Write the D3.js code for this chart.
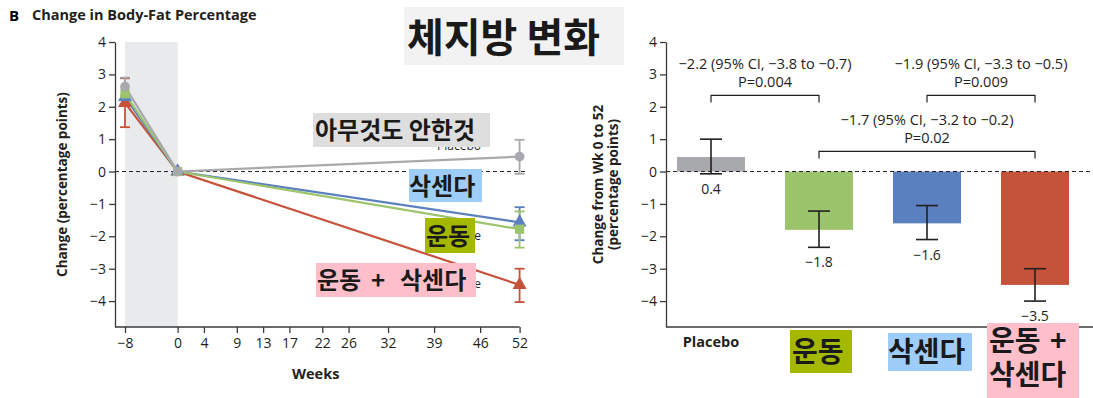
<!DOCTYPE html>
<html>
<head>
<meta charset="utf-8">
<script src="https://cdn.jsdelivr.net/npm/d3@7"></script>
<style>
  body { margin: 0; background: #fff; }
  svg { display: block; font-family: "Open Sans", sans-serif; }
  .axis text { font-size: 14px; fill: #231f20; font-family: "Open Sans", sans-serif; }
  .axis path, .axis line { stroke: #3a3a3a; stroke-width: 1.3; }
  .ko { font-family: "Noto Sans CJK KR", sans-serif; font-weight: 700; fill: #1a1a1a; }
</style>
</head>
<body>
<svg id="chart" width="1093" height="398"></svg>
<script>
// ---- left panel: change over time ----
var weeks = [-8, 0, 52];
var weekTicks = [-8, 0, 4, 9, 13, 17, 22, 26, 32, 39, 46, 52];
var yTicks = [4, 3, 2, 1, 0, -1, -2, -3, -4];

var placeboLine = [2.62, 0, 0.46];
var liraglutideLine = [2.3, 0, -1.57];
var exerciseLine = [2.4, 0, -1.78];
var comboLine = [2.12, 0, -3.5];

// error bars [week, low, high]
var placeboErr = [[-8, 2.35, 2.9], [52, -0.07, 0.98]];
var liraglutideErr = [[52, -2.12, -1.1]];
var exerciseErr = [[52, -2.35, -1.23]];
var comboErr = [[-8, 1.37, 2.88], [52, -4.03, -3.0]];

// ---- right panel: change from week 0 to 52 ----
var barGroups = ["Placebo", "Exercise", "Liraglutide", "Combination"];
var barValues = [0.45, -1.8, -1.6, -3.5];
var barLow = [-0.07, -2.34, -2.1, -4.0];
var barHigh = [1.0, -1.22, -1.05, -3.0];
var barLabels = ["0.4", "\u22121.8", "\u22121.6", "\u22123.5"];

var comparisons = [
  {a: "Placebo", b: "Exercise", ci: "\u22122.2 (95% CI, \u22123.8 to \u22120.7)", p: "P=0.004"},
  {a: "Liraglutide", b: "Combination", ci: "\u22121.9 (95% CI, \u22123.3 to \u22120.5)", p: "P=0.009"},
  {a: "Exercise", b: "Combination", ci: "\u22121.7 (95% CI, \u22123.2 to \u22120.2)", p: "P=0.02"}
];

var colors = {
  Placebo: "#a7a9ac",
  Liraglutide: "#5b80bf",
  Exercise: "#9cc46c",
  Combination: "#c5533a"
};

var svg = d3.select("svg#chart");

// headings
svg.append("text").attr("x", 9).attr("y", 21)
  .style("font", "bold 15px 'Open Sans'").text("B");
svg.append("text").attr("x", 32).attr("y", 20)
  .style("font", "bold 14.5px 'Open Sans'").attr("fill", "#231f20")
  .text("Change in Body-Fat Percentage");

// ===== left panel =====
var x = d3.scaleLinear().domain([-8, 52]).range([125, 519.6]);
var y = d3.scaleLinear().domain([-4.8, 4]).range([327, 42]);
var left = svg.append("g");
var axisX0 = 115;

left.append("rect")
  .attr("x", x(-8)).attr("y", y(4))
  .attr("width", x(0) - x(-8)).attr("height", y(-4.8) - y(4))
  .attr("fill", "#e9eaec");

left.append("line")
  .attr("x1", axisX0).attr("x2", 526)
  .attr("y1", y(0)).attr("y2", y(0))
  .attr("stroke", "#231f20").attr("stroke-dasharray", "4,3");

var series = [
  {key: "Combination", vals: comboLine, err: comboErr, shape: d3.symbolTriangle},
  {key: "Liraglutide", vals: liraglutideLine, err: liraglutideErr, shape: d3.symbolTriangle},
  {key: "Exercise", vals: exerciseLine, err: exerciseErr, shape: d3.symbolSquare},
  {key: "Placebo", vals: placeboLine, err: placeboErr, shape: d3.symbolCircle}
];

var line = d3.line()
  .x(function(d, i) { return x(weeks[i]); })
  .y(function(d) { return y(d); });

series.forEach(function(s) {
  left.append("path")
    .attr("d", line(s.vals))
    .attr("fill", "none")
    .attr("stroke", colors[s.key])
    .attr("stroke-width", 2.2);
});

series.forEach(function(s) {
  var eg = left.append("g").attr("stroke", colors[s.key]).attr("stroke-width", 1.8);
  s.err.forEach(function(e) {
    var cx = x(e[0]);
    eg.append("line").attr("x1", cx).attr("x2", cx).attr("y1", y(e[1])).attr("y2", y(e[2]));
    eg.append("line").attr("x1", cx - 5).attr("x2", cx + 5).attr("y1", y(e[1])).attr("y2", y(e[1]));
    eg.append("line").attr("x1", cx - 5).attr("x2", cx + 5).attr("y1", y(e[2])).attr("y2", y(e[2]));
  });
});

series.forEach(function(s) {
  left.selectAll(null)
    .data(s.vals)
    .enter().append("path")
    .attr("transform", function(d, i) { return "translate(" + x(weeks[i]) + "," + y(d) + ")"; })
    .attr("d", d3.symbol().type(s.shape).size(s.shape === d3.symbolCircle ? 75 : 85))
    .attr("fill", colors[s.key]);
});

left.append("g")
  .attr("class", "axis")
  .attr("transform", "translate(" + axisX0 + ",0)")
  .call(d3.axisLeft(y).tickValues(yTicks).tickSize(6).tickSizeOuter(0).tickPadding(3));

var xAxis = left.append("g")
  .attr("class", "axis")
  .attr("transform", "translate(0," + y(-4.8) + ")")
  .call(d3.axisBottom(x).tickValues(weekTicks).tickSize(6).tickSizeOuter(0).tickPadding(5));
xAxis.select(".domain").remove();
xAxis.append("line").attr("x1", axisX0).attr("x2", x(52)).attr("stroke", "#3a3a3a").attr("stroke-width", 1.3);

left.append("text")
  .attr("x", x(21)).attr("y", 379)
  .attr("text-anchor", "middle")
  .style("font", "bold 14.5px 'Open Sans'").attr("fill", "#231f20")
  .text("Weeks");

left.append("text")
  .attr("transform", "translate(67," + (y(-4.8) + y(4)) / 2 + ") rotate(-90)")
  .attr("text-anchor", "middle")
  .style("font", "bold 13.5px 'Open Sans'").attr("fill", "#231f20")
  .text("Change (percentage points)");

// original series labels, mostly covered by the Korean boxes
var seriesLabels = [["Placebo", 150], ["Exercise", 240], ["Exercise + Liraglutide", 288]];
seriesLabels.forEach(function(l) {
  left.append("text").attr("x", 481).attr("y", l[1]).attr("text-anchor", "end")
    .style("font", "12px 'Open Sans'").attr("fill", "#231f20").text(l[0]);
});

// ===== right panel =====
var xb = d3.scaleBand().domain(barGroups).range([657, 1089]).paddingInner(0.37).paddingOuter(0.185);
var yb = d3.scaleLinear().domain([-4.8, 4]).range([327, 42]);
var right = svg.append("g");
var axisX1 = 666;
var cxb = function(g) { return xb(g) + xb.bandwidth() / 2; };

right.selectAll(".bar")
  .data(barGroups)
  .enter().append("rect")
  .attr("class", "bar")
  .attr("x", function(d) { return xb(d); })
  .attr("width", xb.bandwidth())
  .attr("y", function(d, i) { return yb(Math.max(0, barValues[i])); })
  .attr("height", function(d, i) { return Math.abs(yb(barValues[i]) - yb(0)); })
  .attr("fill", function(d) { return colors[d]; });

right.append("line")
  .attr("x1", axisX1).attr("x2", 1093)
  .attr("y1", yb(0)).attr("y2", yb(0))
  .attr("stroke", "#231f20").attr("stroke-dasharray", "4,3");

barGroups.forEach(function(g, i) {
  var cx = cxb(g);
  var eg = right.append("g").attr("stroke", "#231f20").attr("stroke-width", 1.6);
  eg.append("line").attr("x1", cx).attr("x2", cx).attr("y1", yb(barLow[i])).attr("y2", yb(barHigh[i]));
  eg.append("line").attr("x1", cx - 11).attr("x2", cx + 11).attr("y1", yb(barLow[i])).attr("y2", yb(barLow[i]));
  eg.append("line").attr("x1", cx - 11).attr("x2", cx + 11).attr("y1", yb(barHigh[i])).attr("y2", yb(barHigh[i]));
  right.append("text")
    .attr("x", cx).attr("y", yb(barLow[i]) + 20)
    .attr("text-anchor", "middle")
    .style("font", "14px 'Open Sans'").attr("fill", "#231f20")
    .text(barLabels[i]);
});

right.append("g")
  .attr("class", "axis")
  .attr("transform", "translate(" + axisX1 + ",0)")
  .call(d3.axisLeft(yb).tickValues(yTicks).tickSize(6).tickSizeOuter(0).tickPadding(3));

right.append("line")
  .attr("x1", axisX1).attr("x2", 1093)
  .attr("y1", yb(-4.8)).attr("y2", yb(-4.8))
  .attr("stroke", "#3a3a3a").attr("stroke-width", 1.3);

right.append("text")
  .attr("x", cxb("Placebo")).attr("y", 347)
  .attr("text-anchor", "middle")
  .style("font", "bold 14.5px 'Open Sans'").attr("fill", "#231f20")
  .text("Placebo");

// comparison brackets
var bracketLevels = [2.35, 2.35, 0.62];
comparisons.forEach(function(c, i) {
  var x1 = cxb(c.a), x2 = cxb(c.b), by = yb(bracketLevels[i]);
  right.append("path")
    .attr("d", "M" + x1 + "," + (by + 7) + "V" + by + "H" + x2 + "V" + (by + 7))
    .attr("fill", "none").attr("stroke", "#231f20").attr("stroke-width", 1.2);
  var t = right.append("text")
    .attr("text-anchor", "middle")
    .style("font", "14.5px 'Open Sans'").attr("fill", "#231f20");
  t.append("tspan").attr("x", (x1 + x2) / 2).attr("y", by - 26).text(c.ci);
  t.append("tspan").attr("x", (x1 + x2) / 2).attr("y", by - 8).text(c.p);
});

var yt = right.append("text")
  .attr("transform", "translate(603," + (yb(-4.8) + yb(4)) / 2 + ") rotate(-90)")
  .attr("text-anchor", "middle")
  .style("font", "bold 13.5px 'Open Sans'").attr("fill", "#231f20");
yt.append("tspan").attr("x", 0).attr("y", 0).text("Change from Wk 0 to 52");
yt.append("tspan").attr("x", 0).attr("y", 15).text("(percentage points)");

// ===== Korean overlay labels =====
// parts: [text, x] pieces on each line
function koBox(x0, y0, w, h, fill, lines, size, ty, lh) {
  svg.append("rect").attr("x", x0).attr("y", y0).attr("width", w).attr("height", h).attr("fill", fill);
  var t = svg.append("text").attr("class", "ko").style("font-size", size + "px");
  lines.forEach(function(parts, i) {
    parts.forEach(function(p) {
      t.append("tspan").attr("x", p[1]).attr("y", ty + i * (lh || 0)).text(p[0]);
    });
  });
}

koBox(404, 7, 220, 58, "#f2f2f2", [[["체지방 변화", 407]]], 40, 52);
koBox(313, 113, 177, 34, "#dedede", [[["아무것도 안한것", 315]]], 24, 139);
koBox(409, 169, 73, 33, "#9fcdfa", [[["삭센다", 409]]], 24, 195);
koBox(425, 218, 50, 35, "#a5b800", [[["운동", 426]]], 24, 245);
koBox(316, 263, 160, 34, "#ffbfca", [[["운동", 317], ["+", 371], ["삭센다", 400]]], 24, 289);

koBox(790, 330, 62, 43, "#a5b800", [[["운동", 792]]], 28, 362);
koBox(888, 333, 84, 38, "#9fcdfa", [[["삭센다", 888]]], 28, 362);
koBox(987, 323, 92, 75, "#ffbfca", [[["운동", 989], ["+", 1050]], [["삭센다", 989]]], 28, 351, 34);
</script>
</body>
</html>
